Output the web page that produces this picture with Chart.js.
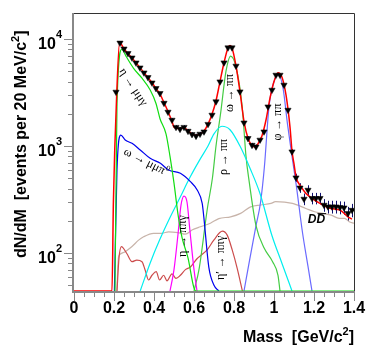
<!DOCTYPE html>
<html><head><meta charset="utf-8">
<script src="https://cdn.jsdelivr.net/npm/chart.js@4/dist/chart.umd.min.js"></script>
<style>html,body{margin:0;padding:0;background:#fff}canvas{display:block}</style>
</head><body>
<canvas id="c" width="374" height="350"></canvas>
<script>
// ---- data (mass in GeV/c^2, counts per 20 MeV/c^2) ----
const dataMass = [0.21,0.23,0.25,0.27,0.29,0.31,0.33,0.35,0.37,0.39,0.41,0.43,0.45,0.47,0.49,0.51,0.53,0.55,0.57,0.59,
  0.61,0.63,0.65,0.67,0.69,0.71,0.73,0.75,0.77,0.79,0.81,0.83,0.85,0.87,0.89,0.91,0.93,0.95,0.97,0.99,
  1.01,1.03,1.05,1.07,1.09,1.11,1.13,1.15,1.17,1.19,1.21,1.23,1.25,1.27,1.29,1.31,1.33,1.35,1.37,1.39];
const dataCounts = [3200,9200,8100,7350,6680,6000,5390,4840,4380,3900,3460,3110,2520,2080,1750,1500,1440,1500,1380,1285,
  1240,1295,1360,1600,1950,2600,3990,6010,8300,8300,5600,3220,1650,1180,1020,985,1140,1360,2330,3340,
  4610,4610,3720,2170,885,506,407,320,388,325,325,325,281,271,271,271,267,265,235,252];
const dataErrors = [90,150,140,130,125,120,115,110,105,100,95,90,80,75,70,65,60,65,60,60,
  60,60,60,65,70,80,100,120,140,140,115,90,65,55,50,50,55,60,75,90,
  105,105,95,75,50,45,42,40,42,40,40,40,38,37,37,37,37,37,35,36];

const totalFit = [[0,44.2],[0.19,44.2],[0.197,300],[0.214,3200],[0.228,9300],[0.25,8100],[0.27,7300],[0.29,6650],[0.31,6000],
  [0.33,5400],[0.35,4850],[0.37,4350],[0.39,3900],[0.41,3450],[0.43,3050],[0.45,2550],[0.47,2100],[0.49,1700],[0.50,1500],
  [0.52,1460],[0.55,1480],[0.57,1390],[0.59,1300],[0.61,1260],[0.63,1290],[0.65,1380],[0.67,1600],[0.69,1980],[0.71,2650],
  [0.73,4000],[0.75,6000],[0.77,8300],[0.78,8700],[0.79,8300],[0.81,5600],[0.83,3200],[0.85,1700],[0.87,1180],[0.89,1010],
  [0.905,980],[0.92,1050],[0.94,1250],[0.96,1750],[0.98,2800],[1.00,4000],[1.02,4850],[1.04,4400],[1.06,3000],[1.08,1500],
  [1.09,900],[1.10,680],[1.11,516],[1.135,417],[1.16,361],[1.19,325],[1.23,291],[1.28,262],[1.33,252],[1.37,218],[1.39,208]];
const etaMuMuGamma = [[0.205,44.2],[0.215,2500],[0.239,8020],[0.26,6900],[0.298,5320],[0.34,4300],[0.381,3340],[0.41,2500],
  [0.43,1800],[0.46,1300],[0.48,800],[0.50,450],[0.52,230],[0.54,140],[0.57,90],[0.60,47],[0.61,44.2],[1.4,44.2]];
const omegaMuMuPi0 = [[0.202,44.2],[0.215,600],[0.234,1267],[0.256,1140],[0.29,1059],[0.331,919],[0.381,767],[0.432,689],
  [0.473,597],[0.532,556],[0.582,465],[0.616,388],[0.641,291],[0.649,218],[0.674,74],[0.70,50],[0.724,44.2]];
const etaPiPiGamma = [[0.48,44.2],[0.50,70],[0.52,150],[0.535,280],[0.55,340],[0.565,300],[0.58,160],[0.60,70],[0.615,44.2]];
const rhoPiPi = [[0.331,44.2],[0.38,80],[0.43,135],[0.48,215],[0.53,330],[0.58,510],[0.63,750],[0.67,1000],[0.70,1300],
  [0.74,1530],[0.78,1420],[0.83,1000],[0.88,620],[0.93,360],[0.99,145],[1.04,80],[1.09,44.2]];
const omegaPiPi = [[0.60,44.2],[0.626,72],[0.667,262],[0.692,500],[0.71,1000],[0.733,2020],[0.76,5000],[0.783,6930],
  [0.81,5500],[0.841,2330],[0.86,800],[0.877,450],[0.91,180],[0.952,110],[0.993,83],[1.02,62],[1.03,44.2]];
const phiPiPi = [[0.85,44.2],[0.88,90],[0.91,180],[0.933,300],[0.952,640],[0.975,2330],[1.0,4000],[1.022,4610],
  [1.045,3500],[1.067,1630],[1.09,800],[1.11,448],[1.143,153],[1.17,75],[1.19,44.2]];
const etaPrimePiPiGamma = [[0.215,44.2],[0.225,90],[0.237,115],[0.264,99],[0.29,83],[0.314,86],[0.34,83],[0.356,69],
  [0.373,56],[0.39,62],[0.411,67],[0.428,56],[0.448,62],[0.465,55],[0.49,64],[0.51,58],[0.532,62],[0.557,70],[0.582,74],
  [0.616,89],[0.634,95],[0.666,107],[0.699,132],[0.742,160],[0.766,147],[0.791,107],[0.816,72],[0.842,44.2]];
const dDbar = [[0.214,44.2],[0.222,90],[0.227,96],[0.256,103],[0.29,115],[0.323,132],[0.348,142],[0.398,153],[0.44,153],
  [0.473,158],[0.52,155],[0.557,150],[0.59,164],[0.632,176],[0.682,190],[0.724,210],[0.783,218],[0.833,235],[0.883,270],
  [0.933,281],[0.985,291],[1.008,302],[1.092,291],[1.159,261],[1.203,243],[1.243,235],[1.286,226],[1.326,211],[1.353,211],
  [1.376,196],[1.4,190]];

const xTickValues = [0,0.2,0.4,0.6,0.8,1.0,1.2,1.4];
const xTickLabels = ['0','0.2','0.4','0.6','0.8','1','1.2','1.4'];
const yTickValues = [100,1000,10000];
const yTickExponents = ['2','3','4'];
const xTitle = ['Mass  [GeV/c', '2', ']'];
const yTitle = ['dN/dM  [events per 20 MeV/c', '2', ']'];

// curve labels: text parts, anchor (mass, value), angle
const curveLabels = [
  {parts:[['η → μμγ']], m:0.296, v:3560, a:57},
  {parts:[['ω → μμπ'],['0',1]], m:0.361, v:708, a:27},
  {parts:[['ω → ππ']], m:0.780, v:3126, a:-90},
  {parts:[['ρ → ππ']], m:0.750, v:789, a:-90},
  {parts:[['φ → ππ']], m:1.021, v:1675, a:-90},
  {parts:[['η → ππγ']], m:0.544, v:144, a:-90},
  {parts:[['η′ → ππγ']], m:0.735, v:90, a:-90}
];

const toXY = arr => arr.map(p => ({x:p[0], y:p[1]}));
const lineDs = (arr, color, w) => ({data:toXY(arr), borderColor:color, borderWidth:w||1.2, pointRadius:0, fill:false,
  showLine:true, cubicInterpolationMode:'monotone'});

const errorBars = {
  id:'errorBars',
  beforeDatasetsDraw(chart){
    const ctx = chart.ctx, xs = chart.scales.x, ys = chart.scales.y;
    ctx.save();
    ctx.strokeStyle = '#101070'; ctx.lineWidth = 1;
    ctx.beginPath();
    dataMass.forEach((m, i) => {
      const px = Math.round(xs.getPixelForValue(m)) + 0.5;
      ctx.moveTo(px, ys.getPixelForValue(dataCounts[i] + dataErrors[i]));
      ctx.lineTo(px, ys.getPixelForValue(dataCounts[i] - dataErrors[i]));
    });
    ctx.stroke();
    ctx.restore();
  }
};

const decor = {
  id:'decor',
  afterDatasetsDraw(chart){
    const ctx = chart.ctx, xs = chart.scales.x, ys = chart.scales.y, ca = chart.chartArea;
    ctx.save();
    // frame
    ctx.strokeStyle = '#333'; ctx.lineWidth = 1;
    ctx.beginPath(); ctx.moveTo(ca.left, ca.top + 0.5); ctx.lineTo(ca.right + 0.5, ca.top + 0.5);
    ctx.lineTo(ca.right + 0.5, ca.bottom); ctx.stroke();
    ctx.strokeStyle = '#888'; ctx.lineWidth = 2;
    ctx.beginPath(); ctx.moveTo(ca.left - 1, ca.top); ctx.lineTo(ca.left - 1, ca.bottom + 1); ctx.lineTo(ca.right + 1, ca.bottom + 1); ctx.stroke();
    // y ticks
    ctx.lineWidth = 1;
    ctx.beginPath();
    for (let d = 1; d <= 4; d++) {
      for (let k = 1; k <= 9; k++) {
        const v = k * Math.pow(10, d);
        if (v < ys.min || v > ys.max) continue;
        const py = Math.round(ys.getPixelForValue(v)) + 0.5;
        const len = k === 1 ? 8 : 4;
        ctx.moveTo(ca.left - 2 - len, py); ctx.lineTo(ca.left - 2, py);
      }
    }
    // x ticks
    for (let i = 0; i <= 28; i++) {
      const v = i * 0.05;
      const px = Math.round(xs.getPixelForValue(v)) + 0.5;
      const len = (i % 4 === 0) ? 8 : 4;
      ctx.moveTo(px, ca.bottom + 2); ctx.lineTo(px, ca.bottom + 2 + len);
    }
    ctx.stroke();
    // tick labels
    ctx.fillStyle = '#000';
    ctx.font = 'bold 16px "Liberation Sans", Arial, sans-serif';
    ctx.textAlign = 'center'; ctx.textBaseline = 'alphabetic';
    xTickValues.forEach((v, i) => ctx.fillText(xTickLabels[i], xs.getPixelForValue(v), ca.bottom + 22));
    yTickValues.forEach((v, i) => {
      const py = ys.getPixelForValue(v);
      ctx.font = 'bold 11px "Liberation Sans", Arial, sans-serif';
      const ew = ctx.measureText(yTickExponents[i]).width;
      ctx.textAlign = 'right';
      ctx.fillText(yTickExponents[i], ca.left - 12, py - 1);
      ctx.font = 'bold 16px "Liberation Sans", Arial, sans-serif';
      ctx.fillText('10', ca.left - 12 - ew, py + 10);
    });
    // axis titles
    const measure = (parts, big, small) => {
      ctx.font = big; const w0 = ctx.measureText(parts[0]).width;
      ctx.font = small; const w1 = ctx.measureText(parts[1]).width;
      ctx.font = big; const w2 = ctx.measureText(parts[2]).width;
      return [w0, w1, w2];
    };
    const big = 'bold 16px "Liberation Sans", Arial, sans-serif', small = 'bold 11px "Liberation Sans", Arial, sans-serif';
    let w = measure(xTitle, big, small);
    let x0 = ca.right - (w[0] + w[1] + w[2]);
    ctx.textAlign = 'left';
    ctx.font = big; ctx.fillText(xTitle[0], x0, 342);
    ctx.font = small; ctx.fillText(xTitle[1], x0 + w[0], 335);
    ctx.font = big; ctx.fillText(xTitle[2], x0 + w[0] + w[1], 342);
    w = measure(yTitle, big, small);
    ctx.save();
    ctx.translate(26, 258); ctx.rotate(-Math.PI / 2);
    ctx.font = big; ctx.fillText(yTitle[0], 0, 0);
    ctx.font = small; ctx.fillText(yTitle[1], w[0], -7);
    ctx.font = big; ctx.fillText(yTitle[2], w[0] + w[1], 0);
    ctx.restore();
    // curve labels
    const lf = '12px "Liberation Serif", "Times New Roman", serif', lfs = '8px "Liberation Serif", serif';
    curveLabels.forEach(L => {
      const px = xs.getPixelForValue(L.m), py = ys.getPixelForValue(L.v);
      let tw = 0;
      L.parts.forEach(p => { ctx.font = p[1] ? lfs : lf; tw += ctx.measureText(p[0]).width; });
      ctx.save(); ctx.translate(px, py); ctx.rotate(L.a * Math.PI / 180);
      ctx.textAlign = 'left'; ctx.textBaseline = 'middle';
      let cx = -tw / 2;
      L.parts.forEach(p => { ctx.font = p[1] ? lfs : lf; ctx.fillText(p[0], cx, p[1] ? -4 : 0); cx += ctx.measureText(p[0]).width; });
      ctx.restore();
    });
    // D Dbar label
    const dx = xs.getPixelForValue(1.169), dy = ys.getPixelForValue(203);
    ctx.font = 'italic bold 12px "Liberation Sans", Arial, sans-serif';
    ctx.textAlign = 'left'; ctx.textBaseline = 'middle';
    ctx.fillText('DD', dx, dy);
    const dw = ctx.measureText('D').width;
    ctx.beginPath(); ctx.lineWidth = 1; ctx.strokeStyle = '#000';
    ctx.moveTo(dx + dw + 1, dy - 6.5); ctx.lineTo(dx + 2 * dw + 1, dy - 6.5); ctx.stroke();
    ctx.restore();
  }
};

new Chart(document.getElementById('c'), {
  type:'line',
  data:{datasets:[
    {data:dataMass.map((m,i)=>({x:m,y:dataCounts[i]})), showLine:false, pointStyle:'triangle', rotation:180,
      pointRadius:3.6, pointBackgroundColor:'#000', pointBorderColor:'#000', pointBorderWidth:0.5},
    lineDs(totalFit, '#ff0000', 1.5),
    lineDs(etaMuMuGamma, '#11dd11', 1.2),
    lineDs(omegaMuMuPi0, '#0000ee', 1.2),
    lineDs(etaPiPiGamma, '#ff00ff', 1.2),
    lineDs(rhoPiPi, '#00eeee', 1.2),
    lineDs(omegaPiPi, '#44cc44', 1.2),
    lineDs(phiPiPi, '#6a6aff', 1.2),
    lineDs(etaPrimePiPiGamma, '#cc4c4c', 1.2),
    lineDs(dDbar, '#c8b4aa', 1.2)
  ]},
  options:{
    responsive:false, animation:false, devicePixelRatio:1,
    layout:{padding:{left:74, right:20, top:13, bottom:59}},
    plugins:{legend:{display:false}, tooltip:{enabled:false}},
    scales:{
      x:{type:'linear', min:0, max:1.4, display:false},
      y:{type:'logarithmic', min:44.2, max:17500, display:false}
    }
  },
  plugins:[errorBars, decor]
});
</script>
</body></html>
